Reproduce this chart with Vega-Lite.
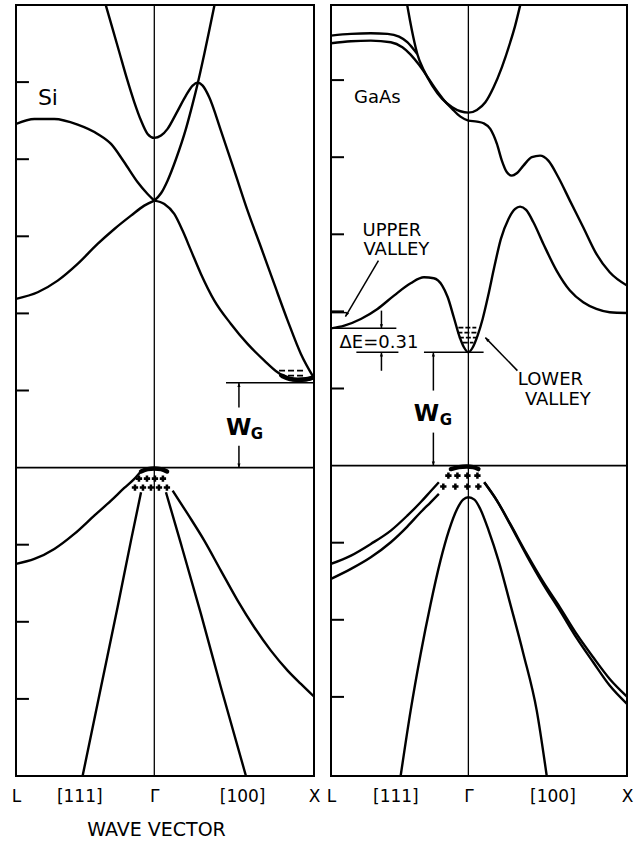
{
  "$schema": "https://vega.github.io/schema/vega-lite/v6.json",
  "background": "white",
  "padding": {"left": 10, "top": 3, "right": 0, "bottom": 0},
  "bounds": "flush",
  "spacing": 17,
  "config": {
    "view": {"stroke": "black", "strokeWidth": 2},
    "font": "DejaVu Sans"
  },
  "datasets": {
    "si_bands": [
      {"band": "c1", "k": -0.866, "E": 4.457}, {"band": "c1", "k": -0.751, "E": 4.522}, {"band": "c1", "k": -0.626, "E": 4.522},
      {"band": "c1", "k": -0.48, "E": 4.449}, {"band": "c1", "k": -0.355, "E": 4.328}, {"band": "c1", "k": -0.271, "E": 4.198},
      {"band": "c1", "k": -0.188, "E": 3.96}, {"band": "c1", "k": -0.104, "E": 3.701}, {"band": "c1", "k": -0.042, "E": 3.549},
      {"band": "c1", "k": 0, "E": 3.463},
      {"band": "c2", "k": -0.866, "E": 2.188}, {"band": "c2", "k": -0.73, "E": 2.274}, {"band": "c2", "k": -0.605, "E": 2.425},
      {"band": "c2", "k": -0.48, "E": 2.642}, {"band": "c2", "k": -0.355, "E": 2.901}, {"band": "c2", "k": -0.25, "E": 3.095},
      {"band": "c2", "k": -0.146, "E": 3.268}, {"band": "c2", "k": -0.063, "E": 3.398}, {"band": "c2", "k": 0, "E": 3.463},
      {"band": "c3", "k": -0.303, "E": 5.992}, {"band": "c3", "k": -0.261, "E": 5.69}, {"band": "c3", "k": -0.219, "E": 5.387},
      {"band": "c3", "k": -0.171, "E": 5.041}, {"band": "c3", "k": -0.125, "E": 4.738}, {"band": "c3", "k": -0.083, "E": 4.501},
      {"band": "c3", "k": -0.042, "E": 4.328}, {"band": "c3", "k": 0, "E": 4.276}, {"band": "c3", "k": 0.042, "E": 4.306},
      {"band": "c3", "k": 0.083, "E": 4.393}, {"band": "c3", "k": 0.136, "E": 4.587}, {"band": "c3", "k": 0.198, "E": 4.825},
      {"band": "c3", "k": 0.24, "E": 4.954}, {"band": "c3", "k": 0.271, "E": 4.993}, {"band": "c3", "k": 0.303, "E": 4.954},
      {"band": "c3", "k": 0.344, "E": 4.803}, {"band": "c3", "k": 0.417, "E": 4.371}, {"band": "c3", "k": 0.501, "E": 3.852},
      {"band": "c3", "k": 0.584, "E": 3.333}, {"band": "c3", "k": 0.668, "E": 2.858}, {"band": "c3", "k": 0.751, "E": 2.382},
      {"band": "c3", "k": 0.835, "E": 1.907}, {"band": "c3", "k": 0.918, "E": 1.474}, {"band": "c3", "k": 1, "E": 1.16},
      {"band": "c5", "k": 0, "E": 3.463}, {"band": "c5", "k": 0.042, "E": 3.558}, {"band": "c5", "k": 0.083, "E": 3.722},
      {"band": "c5", "k": 0.136, "E": 4.003}, {"band": "c5", "k": 0.198, "E": 4.393}, {"band": "c5", "k": 0.24, "E": 4.717},
      {"band": "c5", "k": 0.271, "E": 4.976}, {"band": "c5", "k": 0.313, "E": 5.365}, {"band": "c5", "k": 0.344, "E": 5.668},
      {"band": "c5", "k": 0.376, "E": 5.992},
      {"band": "c6", "k": 0, "E": 3.463}, {"band": "c6", "k": 0.063, "E": 3.42}, {"band": "c6", "k": 0.125, "E": 3.29},
      {"band": "c6", "k": 0.177, "E": 3.074}, {"band": "c6", "k": 0.23, "E": 2.814}, {"band": "c6", "k": 0.292, "E": 2.512},
      {"band": "c6", "k": 0.376, "E": 2.166}, {"band": "c6", "k": 0.48, "E": 1.863}, {"band": "c6", "k": 0.584, "E": 1.604},
      {"band": "c6", "k": 0.689, "E": 1.388}, {"band": "c6", "k": 0.772, "E": 1.236}, {"band": "c6", "k": 0.835, "E": 1.155},
      {"band": "c6", "k": 0.897, "E": 1.125}, {"band": "c6", "k": 0.949, "E": 1.132}, {"band": "c6", "k": 1, "E": 1.16},
      {"band": "v1", "k": -0.866, "E": -1.249}, {"band": "v1", "k": -0.751, "E": -1.185}, {"band": "v1", "k": -0.626, "E": -1.055},
      {"band": "v1", "k": -0.501, "E": -0.86}, {"band": "v1", "k": -0.376, "E": -0.623}, {"band": "v1", "k": -0.271, "E": -0.428},
      {"band": "v1", "k": -0.188, "E": -0.264}, {"band": "v1", "k": -0.125, "E": -0.147}, {"band": "v1", "k": -0.083, "E": -0.048},
      {"band": "v2", "k": 0.115, "E": -0.298}, {"band": "v2", "k": 0.209, "E": -0.601}, {"band": "v2", "k": 0.313, "E": -0.947},
      {"band": "v2", "k": 0.417, "E": -1.336}, {"band": "v2", "k": 0.522, "E": -1.725}, {"band": "v2", "k": 0.626, "E": -2.071},
      {"band": "v2", "k": 0.73, "E": -2.374}, {"band": "v2", "k": 0.835, "E": -2.633}, {"band": "v2", "k": 0.918, "E": -2.806},
      {"band": "v2", "k": 1, "E": -2.97},
      {"band": "v3", "k": -0.449, "E": -4}, {"band": "v3", "k": -0.334, "E": -2.849}, {"band": "v3", "k": -0.23, "E": -1.812},
      {"band": "v3", "k": -0.146, "E": -0.947}, {"band": "v3", "k": -0.083, "E": -0.32},
      {"band": "v4", "k": 0.073, "E": -0.32}, {"band": "v4", "k": 0.167, "E": -0.99}, {"band": "v4", "k": 0.292, "E": -1.898},
      {"band": "v4", "k": 0.417, "E": -2.849}, {"band": "v4", "k": 0.574, "E": -4},
      {"band": "cap", "k": -0.083, "E": -0.05}, {"band": "cap", "k": -0.042, "E": -0.02}, {"band": "cap", "k": 0, "E": -0.012},
      {"band": "cap", "k": 0.042, "E": -0.02}, {"band": "cap", "k": 0.08, "E": -0.05},
      {"band": "fill", "k": 0.8, "E": 1.19}, {"band": "fill", "k": 0.85, "E": 1.15}, {"band": "fill", "k": 0.897, "E": 1.14},
      {"band": "fill", "k": 0.949, "E": 1.145}, {"band": "fill", "k": 0.98, "E": 1.16}
    ],
    "si_marks": [
      {"kind": "gamma", "k": 0, "E": -4, "k2": 0, "E2": 6},
      {"kind": "zero", "k": -0.866, "E": 0, "k2": 1, "E2": 0},
      {"kind": "tick", "k": -0.866, "E": -3, "k2": -0.785, "E2": -3},
      {"kind": "tick", "k": -0.866, "E": -2, "k2": -0.785, "E2": -2},
      {"kind": "tick", "k": -0.866, "E": -1, "k2": -0.785, "E2": -1},
      {"kind": "tick", "k": -0.866, "E": 1, "k2": -0.785, "E2": 1},
      {"kind": "tick", "k": -0.866, "E": 2, "k2": -0.785, "E2": 2},
      {"kind": "tick", "k": -0.866, "E": 3, "k2": -0.785, "E2": 3},
      {"kind": "tick", "k": -0.866, "E": 4, "k2": -0.785, "E2": 4},
      {"kind": "tick", "k": -0.866, "E": 5, "k2": -0.785, "E2": 5},
      {"kind": "level", "k": 0.449, "E": 1.1, "k2": 1, "E2": 1.1},
      {"kind": "arrow", "dir": "up", "k": 0.53, "E": 1.1, "k2": 0.53, "E2": 0.778},
      {"kind": "arrow", "dir": "down", "k": 0.53, "E": 0, "k2": 0.53, "E2": 0.285},
      {"kind": "electrons", "k": 0.781, "E": 1.258, "k2": 0.95, "E2": 1.258},
      {"kind": "electrons", "k": 0.781, "E": 1.193, "k2": 0.95, "E2": 1.193}
    ],
    "si_holes": [
      {"k": -0.096, "E": -0.143}, {"k": -0.046, "E": -0.143}, {"k": 0.004, "E": -0.143}, {"k": 0.054, "E": -0.143},
      {"k": -0.121, "E": -0.259}, {"k": -0.071, "E": -0.259}, {"k": -0.021, "E": -0.259}, {"k": 0.029, "E": -0.259}, {"k": 0.079, "E": -0.259}
    ],
    "si_text": [
      {"label": "Si", "role": "name", "k": -0.666, "E": 4.8},
      {"label": "W", "role": "w", "k": 0.529, "E": 0.512},
      {"label": "G", "role": "sub", "k": 0.643, "E": 0.434}
    ],
    "gaas_bands": [
      {"band": "c1", "k": -0.866, "E": 5.577}, {"band": "c1", "k": -0.74, "E": 5.599}, {"band": "c1", "k": -0.615, "E": 5.607},
      {"band": "c1", "k": -0.51, "E": 5.599}, {"band": "c1", "k": -0.437, "E": 5.564}, {"band": "c1", "k": -0.385, "E": 5.491},
      {"band": "c1", "k": -0.347, "E": 5.404}, {"band": "c1", "k": -0.322, "E": 5.339},
      {"band": "par", "k": -0.385, "E": 5.966}, {"band": "par", "k": -0.368, "E": 5.772}, {"band": "par", "k": -0.347, "E": 5.555},
      {"band": "par", "k": -0.322, "E": 5.339}, {"band": "par", "k": -0.28, "E": 5.123}, {"band": "par", "k": -0.228, "E": 4.929},
      {"band": "par", "k": -0.165, "E": 4.756}, {"band": "par", "k": -0.102, "E": 4.648}, {"band": "par", "k": -0.05, "E": 4.596},
      {"band": "par", "k": 0, "E": 4.578}, {"band": "par", "k": 0.054, "E": 4.613}, {"band": "par", "k": 0.107, "E": 4.712},
      {"band": "par", "k": 0.159, "E": 4.907}, {"band": "par", "k": 0.211, "E": 5.166}, {"band": "par", "k": 0.264, "E": 5.491},
      {"band": "par", "k": 0.295, "E": 5.707}, {"band": "par", "k": 0.326, "E": 5.966},
      {"band": "c2", "k": -0.866, "E": 5.478}, {"band": "c2", "k": -0.74, "E": 5.504}, {"band": "c2", "k": -0.615, "E": 5.512},
      {"band": "c2", "k": -0.489, "E": 5.491}, {"band": "c2", "k": -0.416, "E": 5.426}, {"band": "c2", "k": -0.364, "E": 5.331},
      {"band": "c2", "k": -0.312, "E": 5.201}, {"band": "c2", "k": -0.259, "E": 5.045}, {"band": "c2", "k": -0.207, "E": 4.885},
      {"band": "c2", "k": -0.155, "E": 4.743}, {"band": "c2", "k": -0.102, "E": 4.626}, {"band": "c2", "k": -0.05, "E": 4.526},
      {"band": "c2", "k": 0, "E": 4.475}, {"band": "c2", "k": 0.054, "E": 4.462}, {"band": "c2", "k": 0.096, "E": 4.44},
      {"band": "c2", "k": 0.138, "E": 4.367}, {"band": "c2", "k": 0.18, "E": 4.172}, {"band": "c2", "k": 0.211, "E": 3.956},
      {"band": "c2", "k": 0.243, "E": 3.804}, {"band": "c2", "k": 0.274, "E": 3.761}, {"band": "c2", "k": 0.305, "E": 3.791},
      {"band": "c2", "k": 0.347, "E": 3.891}, {"band": "c2", "k": 0.4, "E": 4}, {"band": "c2", "k": 0.452, "E": 4.021},
      {"band": "c2", "k": 0.504, "E": 3.956}, {"band": "c2", "k": 0.567, "E": 3.74}, {"band": "c2", "k": 0.64, "E": 3.437},
      {"band": "c2", "k": 0.724, "E": 3.091}, {"band": "c2", "k": 0.807, "E": 2.745}, {"band": "c2", "k": 0.891, "E": 2.507},
      {"band": "c2", "k": 1, "E": 2.335},
      {"band": "c4", "k": -0.866, "E": 1.78}, {"band": "c4", "k": -0.782, "E": 1.816}, {"band": "c4", "k": -0.678, "E": 1.902},
      {"band": "c4", "k": -0.573, "E": 2.032}, {"band": "c4", "k": -0.469, "E": 2.205}, {"band": "c4", "k": -0.364, "E": 2.365},
      {"band": "c4", "k": -0.28, "E": 2.442}, {"band": "c4", "k": -0.218, "E": 2.43}, {"band": "c4", "k": -0.165, "E": 2.335},
      {"band": "c4", "k": -0.13, "E": 2.183}, {"band": "c4", "k": -0.092, "E": 1.924}, {"band": "c4", "k": -0.058, "E": 1.686},
      {"band": "c4", "k": -0.028, "E": 1.535}, {"band": "c4", "k": 0, "E": 1.47}, {"band": "c4", "k": 0.028, "E": 1.535},
      {"band": "c4", "k": 0.058, "E": 1.686}, {"band": "c4", "k": 0.09, "E": 1.902}, {"band": "c4", "k": 0.125, "E": 2.205},
      {"band": "c4", "k": 0.163, "E": 2.572}, {"band": "c4", "k": 0.205, "E": 2.94}, {"band": "c4", "k": 0.253, "E": 3.199},
      {"band": "c4", "k": 0.295, "E": 3.329}, {"band": "c4", "k": 0.326, "E": 3.359}, {"band": "c4", "k": 0.364, "E": 3.316},
      {"band": "c4", "k": 0.41, "E": 3.156}, {"band": "c4", "k": 0.473, "E": 2.875}, {"band": "c4", "k": 0.556, "E": 2.529},
      {"band": "c4", "k": 0.64, "E": 2.27}, {"band": "c4", "k": 0.724, "E": 2.118}, {"band": "c4", "k": 0.807, "E": 2.032},
      {"band": "c4", "k": 0.891, "E": 1.989}, {"band": "c4", "k": 1, "E": 1.98},
      {"band": "v1", "k": -0.866, "E": -1.275}, {"band": "v1", "k": -0.74, "E": -1.167}, {"band": "v1", "k": -0.615, "E": -1.016},
      {"band": "v1", "k": -0.489, "E": -0.843}, {"band": "v1", "k": -0.385, "E": -0.649}, {"band": "v1", "k": -0.301, "E": -0.476},
      {"band": "v1", "k": -0.238, "E": -0.333}, {"band": "v1", "k": -0.186, "E": -0.216},
      {"band": "v2", "k": -0.866, "E": -1.47}, {"band": "v2", "k": -0.74, "E": -1.34}, {"band": "v2", "k": -0.615, "E": -1.189},
      {"band": "v2", "k": -0.489, "E": -0.994}, {"band": "v2", "k": -0.385, "E": -0.791}, {"band": "v2", "k": -0.301, "E": -0.605},
      {"band": "v2", "k": -0.238, "E": -0.476}, {"band": "v2", "k": -0.186, "E": -0.368},
      {"band": "so", "k": -0.427, "E": -4.026}, {"band": "so", "k": -0.364, "E": -3.178}, {"band": "so", "k": -0.301, "E": -2.443},
      {"band": "so", "k": -0.238, "E": -1.794}, {"band": "so", "k": -0.176, "E": -1.232}, {"band": "so", "k": -0.123, "E": -0.843},
      {"band": "so", "k": -0.071, "E": -0.562}, {"band": "so", "k": -0.033, "E": -0.441}, {"band": "so", "k": 0, "E": -0.411},
      {"band": "so", "k": 0.038, "E": -0.441}, {"band": "so", "k": 0.075, "E": -0.562}, {"band": "so", "k": 0.128, "E": -0.843},
      {"band": "so", "k": 0.19, "E": -1.232}, {"band": "so", "k": 0.264, "E": -1.794}, {"band": "so", "k": 0.347, "E": -2.443},
      {"band": "so", "k": 0.431, "E": -3.178}, {"band": "so", "k": 0.494, "E": -4.026},
      {"band": "v4a", "k": 0.1, "E": -0.216}, {"band": "v4a", "k": 0.18, "E": -0.454}, {"band": "v4a", "k": 0.264, "E": -0.757},
      {"band": "v4a", "k": 0.368, "E": -1.146}, {"band": "v4a", "k": 0.473, "E": -1.513}, {"band": "v4a", "k": 0.577, "E": -1.838},
      {"band": "v4a", "k": 0.682, "E": -2.183}, {"band": "v4a", "k": 0.787, "E": -2.486}, {"band": "v4a", "k": 0.891, "E": -2.767},
      {"band": "v4a", "k": 1, "E": -2.996},
      {"band": "v4b", "k": 0.1, "E": -0.216}, {"band": "v4b", "k": 0.18, "E": -0.454}, {"band": "v4b", "k": 0.264, "E": -0.765},
      {"band": "v4b", "k": 0.368, "E": -1.167}, {"band": "v4b", "k": 0.473, "E": -1.543}, {"band": "v4b", "k": 0.577, "E": -1.881},
      {"band": "v4b", "k": 0.682, "E": -2.235}, {"band": "v4b", "k": 0.787, "E": -2.551}, {"band": "v4b", "k": 0.891, "E": -2.853},
      {"band": "v4b", "k": 1, "E": -3.091},
      {"band": "cap", "k": -0.11, "E": -0.045}, {"band": "cap", "k": -0.06, "E": -0.02}, {"band": "cap", "k": -0.01, "E": -0.013},
      {"band": "cap", "k": 0.03, "E": -0.02}, {"band": "cap", "k": 0.063, "E": -0.045}
    ],
    "gaas_marks": [
      {"kind": "gamma", "k": 0, "E": -4.026, "k2": 0, "E2": 5.974},
      {"kind": "zero", "k": -0.866, "E": 0, "k2": 1, "E2": 0},
      {"kind": "tick", "k": -0.866, "E": -3, "k2": -0.784, "E2": -3},
      {"kind": "tick", "k": -0.866, "E": -2, "k2": -0.784, "E2": -2},
      {"kind": "tick", "k": -0.866, "E": -1, "k2": -0.784, "E2": -1},
      {"kind": "tick", "k": -0.866, "E": 1, "k2": -0.784, "E2": 1},
      {"kind": "tick", "k": -0.866, "E": 2, "k2": -0.784, "E2": 2},
      {"kind": "tick", "k": -0.866, "E": 3, "k2": -0.784, "E2": 3},
      {"kind": "tick", "k": -0.866, "E": 4, "k2": -0.784, "E2": 4},
      {"kind": "tick", "k": -0.866, "E": 5, "k2": -0.784, "E2": 5},
      {"kind": "level", "k": -0.28, "E": 1.47, "k2": 0.096, "E2": 1.47},
      {"kind": "level", "k": -0.706, "E": 1.47, "k2": -0.441, "E2": 1.47},
      {"kind": "level", "k": -0.866, "E": 1.78, "k2": -0.454, "E2": 1.78},
      {"kind": "level", "k": -0.866, "E": 1.984, "k2": -0.769, "E2": 1.984},
      {"kind": "arrow", "dir": "up", "k": -0.2206, "E": 1.47, "k2": -0.2206, "E2": 0.973},
      {"kind": "arrow", "dir": "down", "k": -0.2206, "E": 0, "k2": -0.2206, "E2": 0.428},
      {"kind": "arrow", "dir": "down", "k": -0.548, "E": 1.78, "k2": -0.548, "E2": 2.01},
      {"kind": "arrow", "dir": "up", "k": -0.548, "E": 1.47, "k2": -0.548, "E2": 1.23},
      {"kind": "arrow", "dir": "toL", "k": -0.775, "E": 1.933, "k2": -0.567, "E2": 2.659},
      {"kind": "arrow", "dir": "toGamma", "k": 0.107, "E": 1.66, "k2": 0.309, "E2": 1.232},
      {"kind": "electrons", "k": -0.063, "E": 1.79, "k2": 0.05, "E2": 1.79},
      {"kind": "electrons", "k": -0.069, "E": 1.725, "k2": 0.056, "E2": 1.725},
      {"kind": "electrons", "k": -0.06, "E": 1.66, "k2": 0.05, "E2": 1.66},
      {"kind": "electrons", "k": -0.035, "E": 1.595, "k2": 0.032, "E2": 1.595}
    ],
    "gaas_holes": [
      {"k": -0.126, "E": -0.13}, {"k": -0.069, "E": -0.13}, {"k": -0.006, "E": -0.13}, {"k": 0.057, "E": -0.13},
      {"k": -0.158, "E": -0.272}, {"k": -0.082, "E": -0.272}, {"k": -0.006, "E": -0.272}, {"k": 0.063, "E": -0.272}
    ],
    "gaas_text": [
      {"label": "GaAs", "role": "name", "k": -0.574, "E": 4.773},
      {"label": "UPPER", "role": "note", "k": -0.482, "E": 3.048},
      {"label": "VALLEY", "role": "note", "k": -0.454, "E": 2.802},
      {"label": "ΔE=0.31", "role": "note", "k": -0.564, "E": 1.595},
      {"label": "LOWER", "role": "note", "k": 0.517, "E": 1.109},
      {"label": "VALLEY", "role": "note", "k": 0.564, "E": 0.85},
      {"label": "W", "role": "w", "k": -0.265, "E": 0.674},
      {"label": "G", "role": "sub", "k": -0.142, "E": 0.597}
    ]
  },
  "hconcat": [
    {
      "width": 298,
      "height": 771,
      "encoding": {
        "x": {
          "field": "k", "type": "quantitative",
          "scale": {"domain": [-0.866, 1], "nice": false, "zero": false},
          "axis": {
            "values": [-0.866, -0.47, 0, 0.55, 1],
            "labelExpr": "datum.value < -0.8 ? 'L' : datum.value < -0.2 ? '[111]' : datum.value < 0.2 ? 'Γ' : datum.value < 0.8 ? '[100]' : 'X'",
            "domain": false, "ticks": false, "grid": false,
            "labelFontSize": 17, "labelColor": "black", "labelPadding": 12,
            "labelFlush": false, "labelOverlap": false, "labelBound": false,
            "title": "WAVE VECTOR", "titleFontSize": 19, "titleFontWeight": "normal", "titleColor": "black",
            "titleX": 140, "titleY": 53, "titleAlign": "center", "titleBaseline": "middle"
          }
        },
        "y": {"field": "E", "type": "quantitative", "scale": {"domain": [-4, 6], "nice": false, "zero": false}, "axis": null}
      },
      "layer": [
        {
          "data": {"name": "si_marks"},
          "transform": [{"filter": "datum.kind === 'gamma'"}],
          "mark": {"type": "rule", "color": "black", "strokeWidth": 1.3},
          "encoding": {"x2": {"field": "k2"}, "y2": {"field": "E2"}}
        },
        {
          "data": {"name": "si_marks"},
          "transform": [{"filter": "datum.kind === 'zero'"}],
          "mark": {"type": "rule", "color": "black", "strokeWidth": 1.6},
          "encoding": {"x2": {"field": "k2"}, "y2": {"field": "E2"}}
        },
        {
          "data": {"name": "si_marks"},
          "transform": [{"filter": "datum.kind === 'tick'"}],
          "mark": {"type": "rule", "color": "black", "strokeWidth": 2},
          "encoding": {"x2": {"field": "k2"}, "y2": {"field": "E2"}}
        },
        {
          "data": {"name": "si_marks"},
          "transform": [{"filter": "datum.kind === 'level' || datum.kind === 'arrow'"}],
          "mark": {"type": "rule", "color": "black", "strokeWidth": 1.5},
          "encoding": {"x2": {"field": "k2"}, "y2": {"field": "E2"}}
        },
        {
          "data": {"name": "si_marks"},
          "transform": [{"filter": "datum.kind === 'electrons'"}],
          "mark": {"type": "rule", "color": "black", "strokeWidth": 1.6, "strokeDash": [6, 3]},
          "encoding": {"x2": {"field": "k2"}, "y2": {"field": "E2"}}
        },
        {
          "data": {"name": "si_marks"},
          "transform": [{"filter": "datum.dir === 'up'"}],
          "mark": {"type": "point", "shape": "M0,0L-0.38,1L0.38,1Z", "filled": true, "color": "black", "opacity": 1, "size": 70, "angle": 0}
        },
        {
          "data": {"name": "si_marks"},
          "transform": [{"filter": "datum.dir === 'down'"}],
          "mark": {"type": "point", "shape": "M0,0L-0.38,1L0.38,1Z", "filled": true, "color": "black", "opacity": 1, "size": 70, "angle": 180}
        },
        {
          "data": {"name": "si_bands"},
          "transform": [{"filter": "datum.band !== 'cap' && datum.band !== 'fill'"}],
          "mark": {"type": "line", "interpolate": "monotone", "color": "black", "strokeWidth": 2.4, "clip": true},
          "encoding": {"detail": {"field": "band"}}
        },
        {
          "data": {"name": "si_bands"},
          "transform": [{"filter": "datum.band === 'cap' || datum.band === 'fill'"}],
          "mark": {"type": "line", "interpolate": "monotone", "color": "black", "strokeWidth": 4.5, "strokeCap": "round"},
          "encoding": {"detail": {"field": "band"}}
        },
        {
          "data": {"name": "si_holes"},
          "mark": {"type": "point", "shape": "cross", "filled": true, "color": "black", "opacity": 1, "size": 40}
        },
        {
          "data": {"name": "si_text"},
          "transform": [{"filter": "datum.role === 'name'"}],
          "mark": {"type": "text", "fontSize": 22, "color": "black", "align": "center", "baseline": "middle"},
          "encoding": {"text": {"field": "label"}}
        },
        {
          "data": {"name": "si_text"},
          "transform": [{"filter": "datum.role === 'w'"}],
          "mark": {"type": "text", "fontSize": 23, "fontWeight": "bold", "color": "black", "align": "center", "baseline": "middle"},
          "encoding": {"text": {"field": "label"}}
        },
        {
          "data": {"name": "si_text"},
          "transform": [{"filter": "datum.role === 'sub'"}],
          "mark": {"type": "text", "fontSize": 15, "fontWeight": "bold", "color": "black", "align": "center", "baseline": "middle"},
          "encoding": {"text": {"field": "label"}}
        }
      ]
    },
    {
      "width": 296,
      "height": 771,
      "encoding": {
        "x": {
          "field": "k", "type": "quantitative",
          "scale": {"domain": [-0.866, 1], "nice": false, "zero": false},
          "axis": {
            "values": [-0.866, -0.46, 0, 0.53, 1],
            "labelExpr": "datum.value < -0.8 ? 'L' : datum.value < -0.2 ? '[111]' : datum.value < 0.2 ? 'Γ' : datum.value < 0.8 ? '[100]' : 'X'",
            "domain": false, "ticks": false, "grid": false,
            "labelFontSize": 17, "labelColor": "black", "labelPadding": 12,
            "labelFlush": false, "labelOverlap": false, "labelBound": false,
            "title": null
          }
        },
        "y": {"field": "E", "type": "quantitative", "scale": {"domain": [-4.026, 5.974], "nice": false, "zero": false}, "axis": null}
      },
      "layer": [
        {
          "data": {"name": "gaas_marks"},
          "transform": [{"filter": "datum.kind === 'gamma'"}],
          "mark": {"type": "rule", "color": "black", "strokeWidth": 1.3},
          "encoding": {"x2": {"field": "k2"}, "y2": {"field": "E2"}}
        },
        {
          "data": {"name": "gaas_marks"},
          "transform": [{"filter": "datum.kind === 'zero'"}],
          "mark": {"type": "rule", "color": "black", "strokeWidth": 1.6},
          "encoding": {"x2": {"field": "k2"}, "y2": {"field": "E2"}}
        },
        {
          "data": {"name": "gaas_marks"},
          "transform": [{"filter": "datum.kind === 'tick'"}],
          "mark": {"type": "rule", "color": "black", "strokeWidth": 2},
          "encoding": {"x2": {"field": "k2"}, "y2": {"field": "E2"}}
        },
        {
          "data": {"name": "gaas_marks"},
          "transform": [{"filter": "datum.kind === 'level' || datum.kind === 'arrow'"}],
          "mark": {"type": "rule", "color": "black", "strokeWidth": 1.5},
          "encoding": {"x2": {"field": "k2"}, "y2": {"field": "E2"}}
        },
        {
          "data": {"name": "gaas_marks"},
          "transform": [{"filter": "datum.kind === 'electrons'"}],
          "mark": {"type": "rule", "color": "black", "strokeWidth": 1.6, "strokeDash": [5, 2]},
          "encoding": {"x2": {"field": "k2"}, "y2": {"field": "E2"}}
        },
        {
          "data": {"name": "gaas_marks"},
          "transform": [{"filter": "datum.dir === 'up'"}],
          "mark": {"type": "point", "shape": "M0,0L-0.38,1L0.38,1Z", "filled": true, "color": "black", "opacity": 1, "size": 70, "angle": 0}
        },
        {
          "data": {"name": "gaas_marks"},
          "transform": [{"filter": "datum.dir === 'down'"}],
          "mark": {"type": "point", "shape": "M0,0L-0.38,1L0.38,1Z", "filled": true, "color": "black", "opacity": 1, "size": 70, "angle": 180}
        },
        {
          "data": {"name": "gaas_marks"},
          "transform": [{"filter": "datum.dir === 'toL'"}],
          "mark": {"type": "point", "shape": "M0,0L-0.38,1L0.38,1Z", "filled": true, "color": "black", "opacity": 1, "size": 80, "angle": 210}
        },
        {
          "data": {"name": "gaas_marks"},
          "transform": [{"filter": "datum.dir === 'toGamma'"}],
          "mark": {"type": "point", "shape": "M0,0L-0.38,1L0.38,1Z", "filled": true, "color": "black", "opacity": 1, "size": 80, "angle": 316}
        },
        {
          "data": {"name": "gaas_bands"},
          "transform": [{"filter": "datum.band !== 'cap'"}],
          "mark": {"type": "line", "interpolate": "monotone", "color": "black", "strokeWidth": 2.4, "clip": true},
          "encoding": {"detail": {"field": "band"}}
        },
        {
          "data": {"name": "gaas_bands"},
          "transform": [{"filter": "datum.band === 'cap'"}],
          "mark": {"type": "line", "interpolate": "monotone", "color": "black", "strokeWidth": 4.5, "strokeCap": "round"},
          "encoding": {"detail": {"field": "band"}}
        },
        {
          "data": {"name": "gaas_holes"},
          "mark": {"type": "point", "shape": "cross", "filled": true, "color": "black", "opacity": 1, "size": 40}
        },
        {
          "data": {"name": "gaas_text"},
          "transform": [{"filter": "datum.role === 'name'"}],
          "mark": {"type": "text", "fontSize": 18, "color": "black", "align": "center", "baseline": "middle"},
          "encoding": {"text": {"field": "label"}}
        },
        {
          "data": {"name": "gaas_text"},
          "transform": [{"filter": "datum.role === 'note'"}],
          "mark": {"type": "text", "fontSize": 18, "color": "black", "align": "center", "baseline": "middle"},
          "encoding": {"text": {"field": "label"}}
        },
        {
          "data": {"name": "gaas_text"},
          "transform": [{"filter": "datum.role === 'w'"}],
          "mark": {"type": "text", "fontSize": 23, "fontWeight": "bold", "color": "black", "align": "center", "baseline": "middle"},
          "encoding": {"text": {"field": "label"}}
        },
        {
          "data": {"name": "gaas_text"},
          "transform": [{"filter": "datum.role === 'sub'"}],
          "mark": {"type": "text", "fontSize": 15, "fontWeight": "bold", "color": "black", "align": "center", "baseline": "middle"},
          "encoding": {"text": {"field": "label"}}
        }
      ]
    }
  ]
}
